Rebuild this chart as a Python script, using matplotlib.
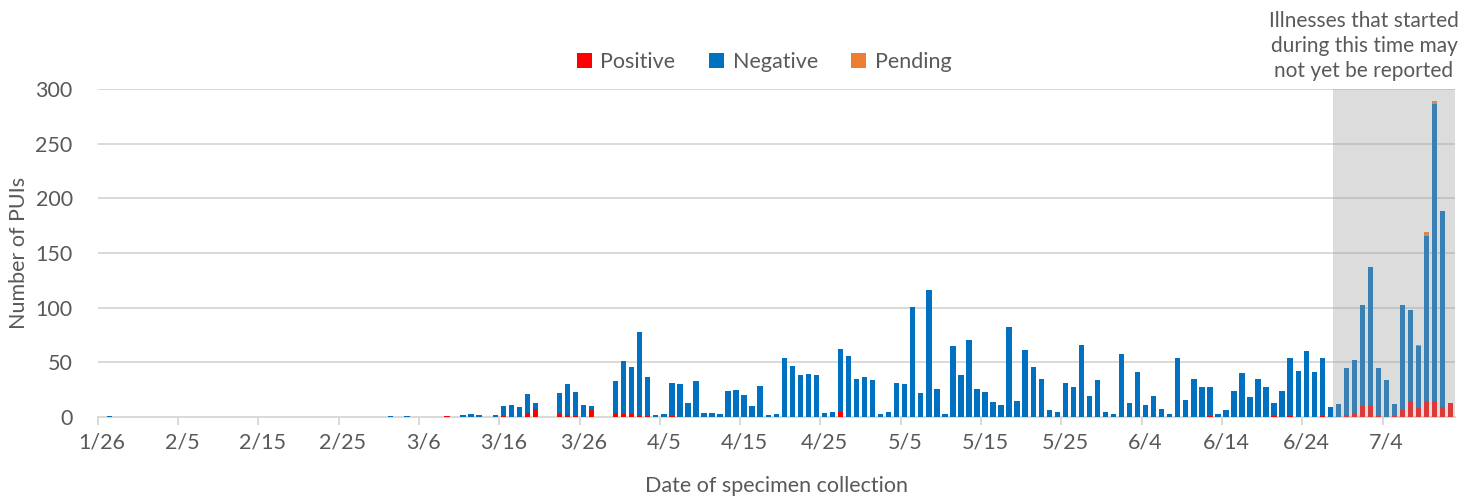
import matplotlib
matplotlib.use("Agg")
import matplotlib.pyplot as plt
import numpy as np
import pandas as pd

plt.rcParams['font.family'] = ['Lato', 'DejaVu Sans']

# ---- data (index 0 = 1/26/2020, one value per day through 7/12) ----
dates = pd.date_range("2020-01-26", "2020-07-12", freq="D")

# totals per day (positive + negative + pending)
total_jan_feb = [0, 1, 0, 0, 0, 0,                      # 1/26-1/31
                 0, 0, 0, 0, 0, 0, 0, 0, 0, 0, 0, 0, 0, 0, 0,
                 0, 0, 0, 0, 0, 0, 0, 0, 0, 0, 0, 0, 0, 0]  # 2/1-2/29
total_mar = [0, 1, 0, 1, 0, 0, 0, 0, 1, 0, 2, 3, 2, 0, 2,
             10, 11, 9, 21, 13, 0, 0, 22, 30, 23, 11, 10, 0, 0, 33, 51]
total_apr = [46, 78, 37, 2, 3, 31, 30, 13, 33, 4, 4, 3, 24, 25, 20,
             10, 28, 2, 3, 54, 47, 38, 39, 38, 4, 5, 62, 56, 35, 37]
total_may = [34, 3, 5, 31, 30, 101, 22, 116, 26, 3, 65, 38, 70, 26, 23,
             14, 11, 82, 15, 61, 46, 35, 6, 5, 31, 27, 66, 19, 34, 5, 3]
total_jun = [58, 13, 41, 11, 19, 7, 3, 54, 16, 35, 27, 27, 3, 6, 24,
             40, 18, 35, 27, 13, 24, 54, 42, 60, 41, 54, 9, 12, 45, 52]
total_jul = [102, 137, 45, 34, 12, 102, 98, 66, 169, 289, 188, 13]

positive_by_date = {"3/9": 1, "3/16": 1, "3/19": 4, "3/20": 7, "3/23": 3, "3/24": 2,
                    "3/25": 1, "3/27": 6, "3/30": 4, "3/31": 3, "4/1": 3, "4/2": 1,
                    "4/3": 1, "4/6": 1, "4/27": 5, "6/12": 1, "6/20": 1, "6/22": 1,
                    "6/26": 1, "6/29": 2, "6/30": 4, "7/1": 10, "7/2": 11, "7/3": 1,
                    "7/5": 1, "7/6": 6, "7/7": 15, "7/8": 8, "7/9": 15, "7/10": 15,
                    "7/11": 9, "7/12": 13}
pending_by_date = {"7/8": 1, "7/9": 3, "7/10": 3}

tick_labels = ["1/26", "2/5", "2/15", "2/25", "3/6", "3/16", "3/26", "4/5", "4/15",
               "4/25", "5/5", "5/15", "5/25", "6/4", "6/14", "6/24", "7/4"]

series_names = ["Positive", "Negative", "Pending"]
series_colors = ["#FF0000", "#0070C0", "#ED7D31"]

# ---- build series ----
labels = [f"{d.month}/{d.day}" for d in dates]
total = np.array(total_jan_feb + total_mar + total_apr + total_may + total_jun + total_jul, float)
positive = np.array([positive_by_date.get(l, 0) for l in labels], float)
pending = np.array([pending_by_date.get(l, 0) for l in labels], float)
negative = total - positive - pending

x = np.arange(len(dates))

W, H = 1468, 496
fig = plt.figure(figsize=(W / 100, H / 100), dpi=100)
ax_l, ax_r, ax_t, ax_b = 97.7, 1454.8, 89, 417
ax = fig.add_axes([ax_l / W, (H - ax_b) / H, (ax_r - ax_l) / W, (ax_b - ax_t) / H])

grey = "#D9D9D9"
txt = "#595959"
fs = 15.5
bw = 0.67
ax.bar(x, positive, width=bw, color=series_colors[0], label=series_names[0], zorder=3)
ax.bar(x, negative, width=bw, bottom=positive, color=series_colors[1], label=series_names[1], zorder=3)
ax.bar(x, pending, width=bw, bottom=positive + negative, color=series_colors[2], label=series_names[2], zorder=3)

ax.set_xlim(-0.5, len(dates) - 0.5)
ax.set_ylim(0, 300)
ax.set_yticks(np.arange(0, 301, 50))
ax.yaxis.grid(True, color=grey, linewidth=1.4, zorder=0)
ax.set_axisbelow(True)
ax.tick_params(axis="y", length=0, pad=18, labelsize=fs, labelcolor=txt)

tick_idx = [labels.index(t) for t in tick_labels]
ax.set_xticks([i - 0.5 for i in tick_idx])
ax.set_xticklabels([])
ax.tick_params(axis="x", which="major", length=6, width=1.4, color=grey)
ax.set_xticks(tick_idx, minor=True)
ax.set_xticklabels(tick_labels, minor=True)
ax.tick_params(axis="x", which="minor", length=0, pad=11, labelsize=fs, labelcolor=txt)

for s in ["top", "right", "left"]:
    ax.spines[s].set_visible(False)
ax.spines["bottom"].set_color(grey)
ax.spines["bottom"].set_linewidth(1.4)

# shaded "not yet reported" region
ax.axvspan(153.3, len(dates) - 0.5, ymin=0, ymax=1, color="#9F9F9F", alpha=0.36,
           linewidth=0, zorder=5)

ax.set_ylabel("Number of PUIs", fontsize=fs, color=txt, labelpad=5)
ax.set_xlabel("Date of specimen collection", fontsize=fs, color=txt, labelpad=17)

leg = ax.legend(loc="center", bbox_to_anchor=(0.491, 1.083), ncol=3, frameon=False,
                fontsize=fs, handlelength=0.7, handleheight=0.7, handletextpad=0.4,
                columnspacing=1.55)
for t in leg.get_texts():
    t.set_color(txt)

fig.text(1364 / W, 1 - 46 / H, "Illnesses that started\nduring this time may\nnot yet be reported",
         ha="center", va="center", fontsize=15, color=txt, linespacing=1.3)

fig.savefig("out.png", dpi=100)
